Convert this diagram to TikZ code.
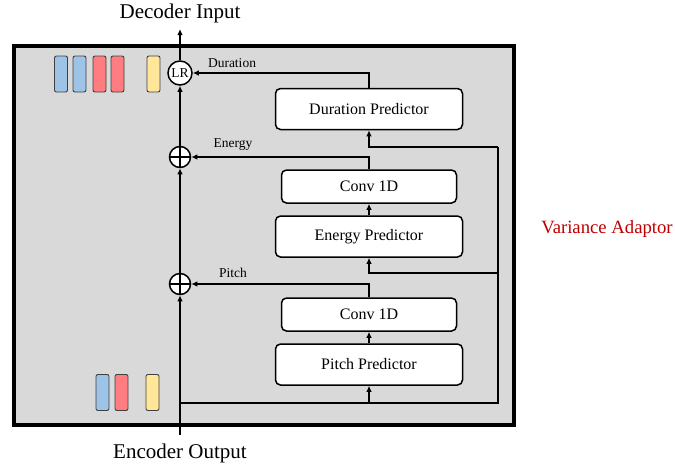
\documentclass[tikz,border=0pt]{standalone}
\usepackage{fontspec}
\setmainfont{Liberation Serif}
\usepackage{tikz}
\usetikzlibrary{arrows.meta}

\definecolor{panelgray}{HTML}{D9D9D9}
\definecolor{barblue}{HTML}{9DC3E6}
\definecolor{barred}{HTML}{FF7C80}
\definecolor{baryellow}{HTML}{FFE699}
\definecolor{vared}{HTML}{C00000}

\begin{document}
\begin{tikzpicture}
	[x=1pt, y=-1pt,
	panel/.style ={rectangle, draw=black, line width=3.2pt, fill=panelgray, inner sep=0pt},
	pred/.style ={rectangle, draw=black, line width=1.5pt, fill=white, rounded corners=5pt, minimum width=187pt, minimum height=41pt, inner sep=0pt, font=\fontsize{16}{19}\selectfont},
	conv/.style ={rectangle, draw=black, line width=1.5pt, fill=white, rounded corners=5pt, minimum width=175pt, minimum height=33pt, inner sep=0pt, font=\fontsize{16}{19}\selectfont},
	adder/.style ={circle, draw=black, line width=1.5pt, fill=white, minimum size=21pt, inner sep=0pt,
		path picture={\draw[line width=1.5pt] (path picture bounding box.north) -- (path picture bounding box.south);
			\draw[line width=1.5pt] (path picture bounding box.west) -- (path picture bounding box.east);}},
	lrnode/.style ={circle, draw=black, line width=1.5pt, fill=white, minimum size=24pt, inner sep=0pt, font=\fontsize{13.5}{16}\selectfont},
	bar/.style ={rectangle, draw=black!75, line width=0.9pt, rounded corners=2pt, minimum width=13pt, minimum height=36pt, inner sep=0pt},
	tag/.style ={font=\fontsize{13.5}{16}\selectfont},
	io/.style ={font=\fontsize{21}{25}\selectfont},
	line/.style ={draw, line width=1.6pt},
	arr/.style ={draw, line width=1.6pt, -{Latex[length=6pt,width=5.5pt]}}]
	\useasboundingbox (0,0) rectangle (675,467);
	\draw (264,235.5) node[panel, minimum width=500pt, minimum height=379pt] (va) {};
	% colour bars
	\draw (61,74) node[bar, fill=barblue] (t1) {};
	\draw (79.5,74) node[bar, fill=barblue] (t2) {};
	\draw (99.5,74) node[bar, fill=barred] (t3) {};
	\draw (117.5,74) node[bar, fill=barred] (t4) {};
	\draw (153.5,74) node[bar, fill=baryellow] (t5) {};
	\draw (102.5,392.5) node[bar, fill=barblue] (b1) {};
	\draw (121.5,392.5) node[bar, fill=barred] (b2) {};
	\draw (152.5,392.5) node[bar, fill=baryellow] (b3) {};
	% main path
	\draw (180,13) node[io] (dec) {Decoder Input};
	\draw (180,453) node[io] (enc) {Encoder Output};
	\coordinate (encin) at (180,435);
	\coordinate (decout) at (180,29);
	\draw (180,73) node[lrnode] (lr) {LR};
	\draw (180,157) node[adder] (eadd) {};
	\draw (180,284) node[adder] (padd) {};
	% predictors
	\draw (369,109) node[pred] (dur) {Duration Predictor};
	\draw (369,186.5) node[conv] (econv) {Conv 1D};
	\draw (369,236.5) node[pred] (energy) {Energy Predictor};
	\draw (369,314.5) node[conv] (pconv) {Conv 1D};
	\draw (369,364.5) node[pred] (pitch) {Pitch Predictor};
	\draw (232,63) node[tag] (ldur) {Duration};
	\draw (233,145) node[tag] (lenergy) {Energy};
	\draw (233,273) node[tag] (lpitch) {Pitch};
	\draw (607,229) node[font=\fontsize{18.7}{22}\selectfont, text=vared] (lva) {Variance Adaptor};
	% branch coordinates
	\coordinate (tap) at (180,403);
	\coordinate (corner) at (498,403);
	\coordinate (etap) at (498,273);
	\coordinate (dtap) at (498,147);
	\draw[arr] (encin) -- (padd);
	\draw[arr] (padd) -- (eadd);
	\draw[arr] (eadd) -- (lr);
	\draw[arr] (lr) -- (decout);
	\draw[line] (tap) -- (corner) -- (dtap);
	\draw[arr] (dtap) -| (dur.south);
	\draw[arr] (etap) -| (energy.south);
	\draw[arr] (pitch.south |- tap) -- (pitch.south);
	\draw[arr] (pitch) -- (pconv);
	\draw[arr] (energy) -- (econv);
	\draw[arr] (pconv.north) |- (padd.east);
	\draw[arr] (econv.north) |- (eadd.east);
	\draw[arr] (dur.north) |- (lr.east);
\end{tikzpicture}
\end{document}
